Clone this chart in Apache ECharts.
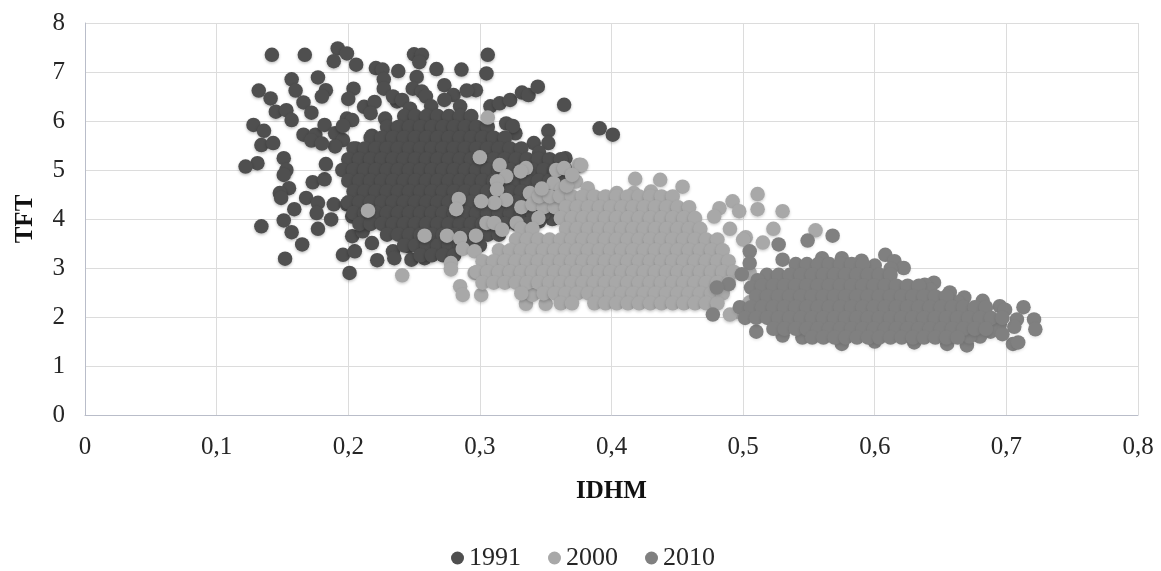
<!DOCTYPE html>
<html><head><meta charset="utf-8">
<style>html,body{margin:0;padding:0;background:#fff}#c{width:1161px;height:571px}</style>
<script src="https://cdn.jsdelivr.net/npm/echarts@6/dist/echarts.min.js"></script>
</head><body><div id="c"></div>
<script>
const seriesNames = ['1991','2000','2010'];
// scattered points: [IDHM, TFT]
const scatter1991 = [[.142,7.35],[.167,7.35],[.192,7.48],[.199,7.38],[.189,7.22],[.206,7.15],[.221,7.08],[.226,7.05],[.238,7.02],[.250,7.36],[.256,7.35],[.254,7.2],[.267,7.06],[.286,7.05],[.306,7.35],[.305,6.97],
[.132,6.62],[.141,6.46],[.145,6.19],[.153,6.22],[.157,6.02],[.157,6.85],[.160,6.62],[.177,6.89],[.183,6.63],[.180,6.5],[.166,6.38],[.172,6.17],[.204,6.66],[.2,6.45],[.212,6.29],[.22,6.39],[.217,6.16],[.228,6.05],[.227,6.85],[.227,6.66],[.237,6.4],[.252,6.9],[.249,6.66],[.256,6.6],[.273,6.73],[.28,6.53],[.297,6.63],[.29,6.62],[.308,6.3],[.315,6.36],[.323,6.43],[.332,6.58],[.337,6.53],[.344,6.7],[.364,6.33],[.234,6.5],[.241,6.43],[.259,6.5],[.273,6.43],[.263,6.3],[.285,6.3],[.247,6.25],
[.128,5.92],[.136,5.8],[.134,5.51],[.143,5.55],[.131,5.14],[.122,5.07],[.151,5.24],[.153,5.0],[.151,4.9],[.155,4.63],[.148,4.53],[.149,4.43],[.173,4.75],[.182,4.81],[.183,5.12],[.166,5.72],[.175,5.72],[.172,5.6],[.182,5.92],[.19,5.75],[.199,6.05],[.203,6.02],[.196,5.61],[.19,5.48],[.18,5.54],[.206,5.44],[.218,5.7],[.196,5.9],
[.168,4.43],[.159,4.2],[.151,3.97],[.177,4.33],[.189,4.3],[.199,4.3],[.176,4.12],[.187,3.99],[.203,4.05],[.134,3.85],[.177,3.8],[.157,3.73],[.165,3.48],[.152,3.19],[.201,2.9],[.196,3.27],[.205,3.34],[.203,3.65],[.211,3.75],[.218,3.51],[.222,3.16],[.234,3.34],[.235,3.2],[.246,3.44],[.248,3.17],[.258,3.2],[.268,3.41],[.276,3.48],
[.391,5.85],[.401,5.72],[.352,5.8],[.341,5.55],[.352,5.55],[.365,5.24],[.327,5.75],[.31,5.65],[.32,5.95],[.345,5.35],[.376,5.1],[.325,5.9],[.355,4.0],[.345,3.95]];
// dense core rows: [TFT, IDHM, IDHM, ...]
const rows1991 = [
[6.1,.2425,.251,.2595,.268,.2765,.285,.2935],
[5.88,.2295,.238,.2465,.255,.2635,.272,.2805,.289,.2975,.306],
[5.66,.217,.2255,.234,.2425,.251,.2595,.268,.2765,.285,.2935,.302,.3105,.319],
[5.44,.204,.2125,.221,.2295,.238,.2465,.255,.2635,.272,.2805,.289,.2975,.306,.3145,.323,.3315],
[5.22,.2,.2085,.217,.2255,.234,.2425,.251,.2595,.268,.2765,.285,.2935,.302,.3105,.319,.3275,.336,.3445,.353,.3615],
[5.0,.1955,.204,.2125,.221,.2295,.238,.2465,.255,.2635,.272,.2805,.289,.2975,.306,.3145,.323,.3315,.34,.3485,.357,.3655],
[4.78,.2,.2085,.217,.2255,.234,.2425,.251,.2595,.268,.2765,.285,.2935,.302,.3105,.319,.3275,.336,.3445,.353,.3615,.37],
[4.56,.204,.2125,.221,.2295,.238,.2465,.255,.2635,.272,.2805,.289,.2975,.306,.3145,.323,.3315,.34,.3485,.357,.3655],
[4.34,.2,.2085,.217,.2255,.234,.2425,.251,.2595,.268,.2765,.285,.2935,.302,.3105,.319,.3275,.336,.3445,.353,.3615],
[4.12,.204,.2125,.221,.2295,.238,.2465,.255,.2635,.272,.2805,.289,.2975,.306,.3145,.323,.3315,.34,.3485],
[3.9,.2085,.217,.2255,.234,.2425,.251,.2595,.268,.2765,.285,.2935,.302,.3105,.319,.3275,.336],
[3.68,.2295,.238,.2465,.255,.2635,.272,.2805,.289,.2975,.306,.3145],
[3.46,.2425,.251,.2595,.268,.2765,.285,.2935,.3],
[3.26,.255,.2635,.272,.2805]];
const scatter2000 = [[.306,6.07],[.3,5.26],[.315,5.1],[.32,4.87],[.313,4.77],[.313,4.6],[.335,5.04],[.331,4.97],[.358,5.0],[.364,5.04],[.375,5.1],[.356,4.73],[.362,4.6],[.373,4.77],[.338,4.53],[.32,4.39],[.311,4.33],[.301,4.36],[.284,4.41],[.282,4.2],[.215,4.17],[.258,3.66],[.275,3.66],[.285,3.61],[.297,3.66],[.305,3.92],[.311,3.92],[.317,3.78],[.328,3.92],[.287,3.39],[.296,3.34],[.278,3.1],[.278,2.97],[.241,2.85],[.296,2.9],[.285,2.63],[.287,2.45],[.301,2.45],[.335,2.27],[.35,2.27],[.34,2.45],
[.418,4.82],[.437,4.8],[.454,4.66],[.417,4.53],[.43,4.56],[.404,4.53],[.382,4.63],[.377,5.1],[.511,4.51],[.511,4.2],[.492,4.36],[.497,4.16],[.482,4.22],[.478,4.05],[.53,4.16],[.49,3.8],[.523,3.8],[.502,3.63],[.515,3.52],[.555,3.77],[.5,3.58],[.505,2.9],[.497,2.1],[.49,2.05],[.505,2.3],
[.3315,4.24],[.34,4.3],[.3485,4.24],[.357,4.24],[.345,4.46],[.353,4.46],[.361,4.46],[.37,4.46],[.378,4.46],[.366,4.68],[.37,4.9],[.347,4.62]];
const rows2000 = [
[4.46,.387,.3955,.404,.4125,.421,.4295,.438,.4465],
[4.24,.3655,.374,.3825,.391,.3995,.408,.4165,.425,.4335,.442,.4505,.459],
[4.02,.3445,.3615,.37,.3785,.387,.3955,.404,.4125,.421,.4295,.438,.4465,.455,.4635],
[3.8,.3315,.34,.3655,.374,.3825,.391,.3995,.408,.4165,.425,.4335,.442,.4505,.459,.4675],
[3.58,.3275,.336,.3445,.353,.3615,.37,.3785,.387,.3955,.404,.4125,.421,.4295,.438,.4465,.455,.4635,.472,.4805],
[3.36,.3145,.323,.3315,.34,.3485,.357,.3655,.374,.3825,.391,.3995,.408,.4165,.425,.4335,.442,.4505,.459,.4675,.476,.4845],
[3.14,.302,.3105,.319,.3275,.336,.3445,.353,.3615,.37,.3785,.387,.3955,.404,.4125,.421,.4295,.438,.4465,.455,.4635,.472,.4805,.489],
[2.92,.2975,.306,.3145,.323,.3315,.34,.3485,.357,.3655,.374,.3825,.391,.3995,.408,.4165,.425,.4335,.442,.4505,.459,.4675,.476,.4845,.493],
[2.7,.302,.3105,.319,.3275,.336,.3445,.353,.3615,.37,.3785,.387,.3955,.404,.4125,.421,.4295,.438,.4465,.455,.4635,.472,.4805,.489],
[2.48,.3315,.3485,.357,.3655,.374,.3825,.391,.3995,.408,.4165,.425,.4335,.442,.4505,.459,.4675,.476,.4845],
[2.28,.3615,.37,.387,.3955,.404,.4125,.421,.4295,.438,.4465,.455,.4635,.472,.4805]];
const scatter2010 = [[.568,3.66],[.549,3.56],[.527,3.48],[.505,3.34],[.53,3.17],[.505,3.1],[.499,2.87],[.489,2.67],[.608,3.27],[.615,3.14],[.622,3.0],[.645,2.7],[.638,2.66],[.657,2.5],[.668,2.4],[.682,2.33],[.695,2.22],[.699,2.15],[.713,2.2],[.721,1.95],[.722,1.75],[.705,1.45],[.709,1.48],[.695,1.85],[.688,1.7],[.67,1.42],[.655,1.45],[.51,1.7],[.53,1.62],[.545,1.58],[.575,1.45],[.60,1.5],[.63,1.48],[.48,2.6],[.477,2.05],[.56,3.2],[.575,3.2],[.59,3.15],
[.518,2.86],[.511,2.75],[.506,2.6],[.6,3.05],[.612,2.98],[.642,2.55],[.663,2.3],[.676,2.12],[.708,1.95],[.706,1.8],[.697,1.65],[.68,1.6],[.672,1.6]];
const rows2010 = [
[3.08,.54,.5485,.557,.5655,.574,.5825,.591],
[2.86,.527,.5355,.544,.5525,.561,.5695,.578,.5865,.595,.6035,.612],
[2.64,.5145,.523,.5315,.54,.5485,.557,.5655,.574,.5825,.591,.5995,.608,.6165,.625,.6335],
[2.42,.51,.5185,.527,.5355,.544,.5525,.561,.5695,.578,.5865,.595,.6035,.612,.6205,.629,.6375,.646,.6545],
[2.2,.4975,.506,.5145,.523,.5315,.54,.5485,.557,.5655,.574,.5825,.591,.5995,.608,.6165,.625,.6335,.642,.6505,.659,.6675,.676,.6845],
[1.98,.5015,.51,.5185,.527,.5355,.544,.5525,.561,.5695,.578,.5865,.595,.6035,.612,.6205,.629,.6375,.646,.6545,.663,.6715,.68,.6885,.697],
[1.76,.523,.5315,.54,.5485,.557,.5655,.574,.5825,.591,.5995,.608,.6165,.625,.6335,.642,.6505,.659,.6675,.676,.6845],
[1.58,.5525,.561,.5695,.578,.5865,.595,.6035,.612,.6205,.629,.6375,.646,.6545,.663]];

const expand = (pts, rows) => pts.concat(rows.flatMap(r => r.slice(1).map(x => [x, r[0]])));
const data1991 = expand(scatter1991, rows1991);
const data2000 = expand(scatter2000, rows2000);
const data2010 = expand(scatter2010, rows2010);

const serif = '"Liberation Serif", serif';
const mk = (name, data, color, sh) => ({
  name, type:'scatter', data, symbol:'circle', symbolSize:14.5,
  itemStyle:{color, shadowBlur:3, shadowOffsetY:1.5, shadowColor:'rgba(0,0,0,'+sh+')', opacity:1},
  emphasis:{disabled:true}
});
const chart = echarts.init(document.getElementById('c'));
chart.setOption({
  animation:false, backgroundColor:'#fff',
  grid:{left:85,right:23,top:23,bottom:156},
  legend:{data:seriesNames,bottom:0,left:451,icon:'circle',itemWidth:13,itemHeight:13,itemGap:27,
    textStyle:{fontFamily:serif,fontSize:26,color:'#262626'},padding:[0,0,0,0]},
  xAxis:{type:'value',min:0,max:0.8,interval:0.1,name:'IDHM',nameLocation:'middle',nameGap:64,
    nameTextStyle:{fontFamily:serif,fontSize:25,fontWeight:'bold',color:'#111'},
    axisLine:{show:true,lineStyle:{color:'#b9bdc9',width:1}},axisTick:{show:false},
    axisLabel:{margin:20,fontFamily:serif,fontSize:25,color:'#262626',
      formatter:v=>String(+v.toFixed(1)).replace('.',',')},
    splitLine:{show:true,lineStyle:{color:'#dcdcdc',width:1}}},
  yAxis:{type:'value',min:0,max:8,interval:1,name:'TFT',nameLocation:'middle',nameGap:47,
    nameTextStyle:{fontFamily:serif,fontSize:25,fontWeight:'bold',color:'#111'},
    axisLine:{show:true,lineStyle:{color:'#b9bdc9',width:1}},axisTick:{show:false},
    axisLabel:{margin:20,fontFamily:serif,fontSize:25,color:'#262626'},
    splitLine:{show:true,lineStyle:{color:'#dcdcdc',width:1}}},
  series:[mk('1991',data1991,'#4f4f4f',0.25),mk('2000',data2000,'#a8a8a8',0.2),mk('2010',data2010,'#808080',0.1)]
});
</script></body></html>
